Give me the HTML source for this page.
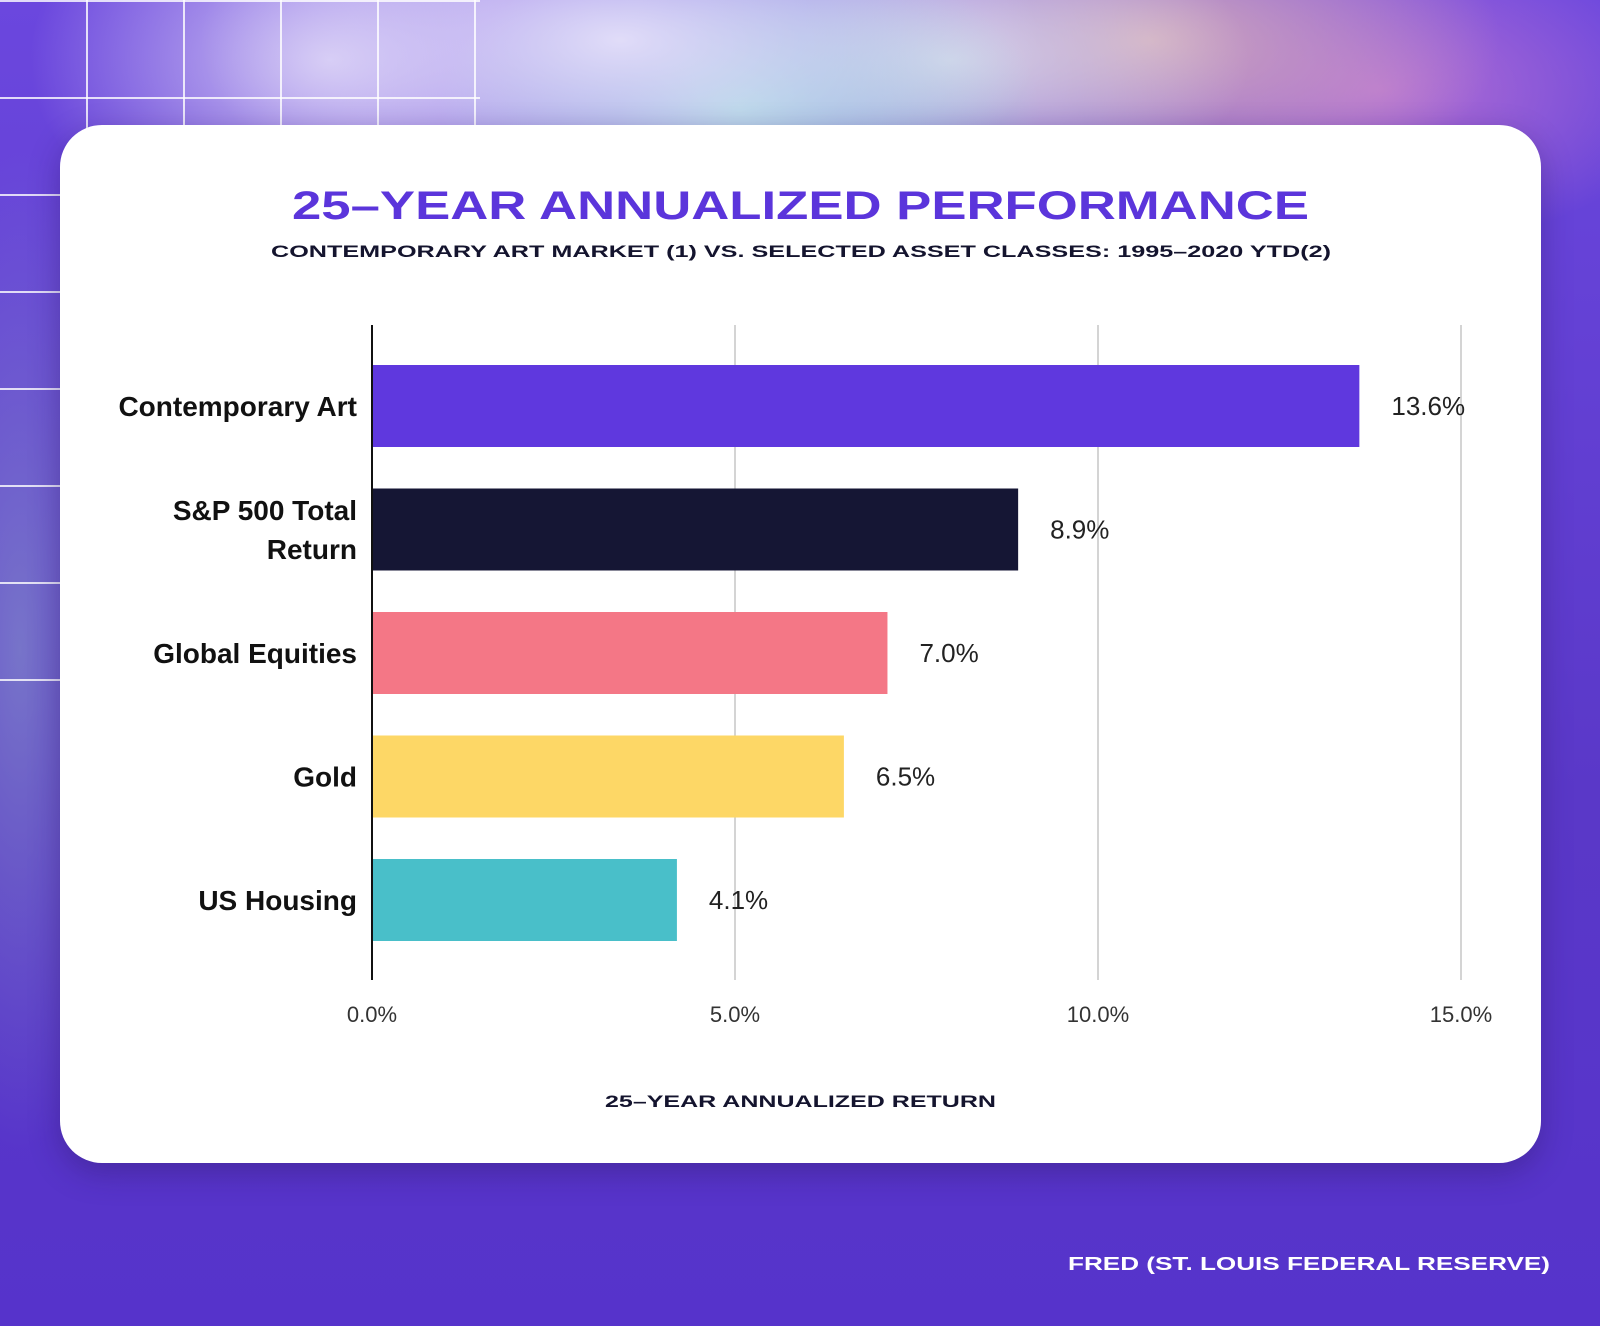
<!DOCTYPE html>
<html><head><meta charset="utf-8"><style>
html,body{margin:0;padding:0}
body{width:1600px;height:1326px;position:relative;overflow:hidden;font-family:"Liberation Sans",sans-serif;background:#5a34cc;}
.bg{position:absolute;inset:0;
background:
radial-gradient(ellipse 420px 200px at 620px 40px,rgba(230,225,250,0.95),rgba(230,225,250,0) 100%),
radial-gradient(ellipse 300px 170px at 740px 110px,rgba(150,215,220,0.95),rgba(150,215,220,0) 100%),
radial-gradient(ellipse 300px 150px at 950px 60px,rgba(220,220,235,0.9),rgba(220,220,235,0) 100%),
radial-gradient(ellipse 350px 180px at 1150px 40px,rgba(215,175,185,0.95),rgba(215,175,185,0) 100%),
radial-gradient(ellipse 300px 160px at 1380px 90px,rgba(195,120,210,0.85),rgba(195,120,210,0) 100%),
radial-gradient(ellipse 300px 200px at 330px 60px,rgba(215,205,245,0.95),rgba(215,205,245,0) 100%),
radial-gradient(ellipse 120px 500px at 20px 650px,rgba(130,140,200,0.7),rgba(130,140,200,0) 100%),
linear-gradient(180deg,#6b47de 0%,#5a38c8 60%,#5633cb 100%);}
.grid{position:absolute;left:0;top:0;width:480px;height:690px;
background-image:linear-gradient(rgba(255,255,255,0.8) 2px,transparent 2px),linear-gradient(90deg,rgba(255,255,255,0.8) 2px,transparent 2px);
background-size:97px 97px;background-position:-11px 0px,86px 0;}
.card{position:absolute;left:60px;top:125px;width:1481px;height:1038px;background:#fff;border-radius:42px;box-shadow:0 10px 30px rgba(40,20,90,0.35)}
</style></head><body>
<div class="bg"></div>
<div class="grid"></div>
<div class="card"></div>
<svg width="1600" height="1326" style="position:absolute;left:0;top:0">
<text x="292" y="219" textLength="1017" lengthAdjust="spacingAndGlyphs" font-weight="bold" font-size="40" fill="#5b35db">25–YEAR ANNUALIZED PERFORMANCE</text>
<text x="271" y="257" textLength="1060" lengthAdjust="spacingAndGlyphs" font-weight="bold" font-size="17" fill="#14142e">CONTEMPORARY ART MARKET (1) VS. SELECTED ASSET CLASSES: 1995–2020 YTD(2)</text>
<g id="plot"></g>
<text x="605" y="1107" textLength="391" lengthAdjust="spacingAndGlyphs" font-weight="bold" font-size="17" fill="#14142e">25–YEAR ANNUALIZED RETURN</text>
<text x="1068" y="1270" textLength="482" lengthAdjust="spacingAndGlyphs" font-weight="bold" font-size="18" fill="#fff">FRED (ST. LOUIS FEDERAL RESERVE)</text>
</svg>
<script>
const categories=[["Contemporary Art"],["S&P 500 Total","Return"],["Global Equities"],["Gold"],["US Housing"]];
const values=[13.6,8.9,7.1,6.5,4.2];
const valueLabels=["13.6%","8.9%","7.0%","6.5%","4.1%"];
const colors=["#5f38de","#151634","#f47786","#fdd766","#49bfc9"];
const ticks=[0,5,10,15];
const tickLabels=["0.0%","5.0%","10.0%","15.0%"];
const NS="http://www.w3.org/2000/svg";
const g=document.getElementById('plot');
const x=v=>372+v*(1461-372)/15;
const yc=i=>406+i*123.5;
function mk(t,a){const e=document.createElementNS(NS,t);for(const k in a)e.setAttribute(k,a[k]);g.appendChild(e);return e;}
ticks.forEach((t,i)=>{
 if(i>0){const l=mk('line',{x1:x(t),x2:x(t),y1:325,y2:980,stroke:'#d4d4d4','stroke-width':2});
 
 }
 const tx=mk('text',{x:x(t),y:1022,'text-anchor':'middle','font-size':22,fill:'#333'});tx.textContent=tickLabels[i];
 
 
});
values.forEach((v,i)=>{
 const r=mk('rect',{x:x(0),y:yc(i)-41,width:x(v)-x(0),height:82,fill:colors[i]});
 
 
 const vt=mk('text',{x:x(v)+32,y:yc(i)+9,'font-size':26,fill:'#222'});vt.textContent=valueLabels[i];
 
 
 const lines=categories[i];
 lines.forEach((s,j)=>{
  const ct=mk('text',{x:357,y:yc(i)+10+(j-(lines.length-1)/2)*39,'text-anchor':'end','font-size':28,'font-weight':'bold',fill:'#111'});ct.textContent=s;
  
  
 });
});
const ax=mk('line',{x1:x(0),x2:x(0),y1:325,y2:980,stroke:'#111','stroke-width':2});


</script>
</body></html>
